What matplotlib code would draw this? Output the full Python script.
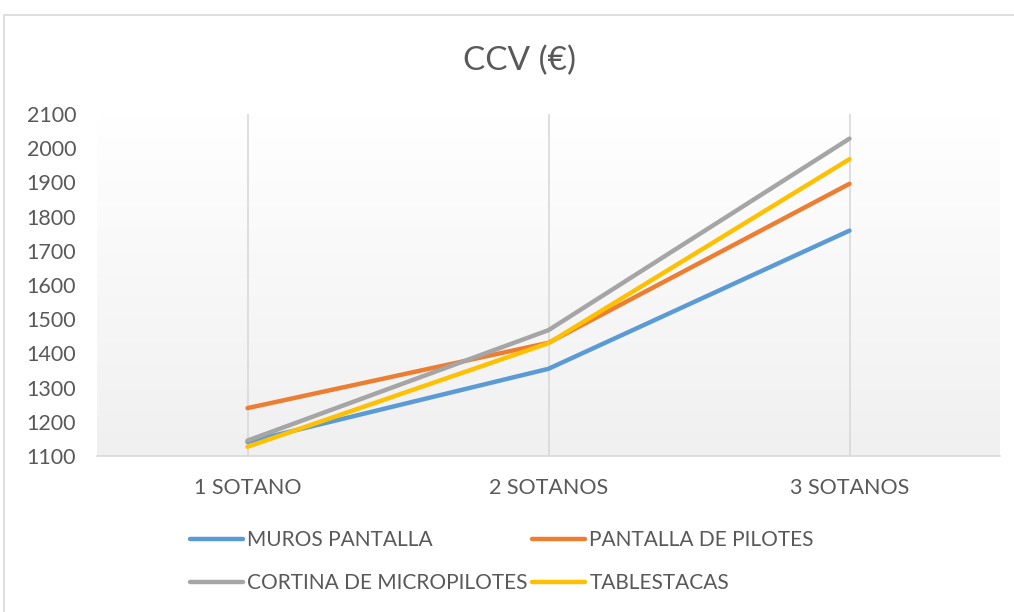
import matplotlib.pyplot as plt
import numpy as np
from matplotlib.patches import Rectangle

plt.rcParams['font.family'] = ['Lato', 'DejaVu Sans']

# Data
categories = ['1 SOTANO', '2 SOTANOS', '3 SOTANOS']
muros_pantalla = [1141, 1355, 1759]
pantalla_pilotes = [1240, 1431, 1896]
cortina_micropilotes = [1145, 1468, 2028]
tablestacas = [1127, 1430, 1968]
yticks = [1100, 1200, 1300, 1400, 1500, 1600, 1700, 1800, 1900, 2000, 2100]

fig = plt.figure(figsize=(10.14, 6.12), dpi=100)
fig.patches.append(Rectangle((4 / 1014, -0.1), 1.1, (612 - 15) / 612 + 0.1,
                             transform=fig.transFigure, fill=False,
                             edgecolor='#d9d9d9', linewidth=1.2))

ax = fig.add_axes([97 / 1014, 156 / 612, 903 / 1014, 342 / 612])

# gradient background: white at top, light gray at bottom
grad = np.linspace(1.0, 0.0, 256).reshape(-1, 1)
ax.imshow(grad, extent=[0, 1, 0, 1], transform=ax.transAxes, aspect='auto',
          cmap=plt.matplotlib.colors.LinearSegmentedColormap.from_list(
              'g', ['#f0f0f0', '#ffffff']), zorder=0)

x = np.arange(len(categories))
series = [
    ('MUROS PANTALLA', muros_pantalla, '#5B9BD5'),
    ('PANTALLA DE PILOTES', pantalla_pilotes, '#ED7D31'),
    ('CORTINA DE MICROPILOTES', cortina_micropilotes, '#A5A5A5'),
    ('TABLESTACAS', tablestacas, '#FFC000'),
]
handles = {}
for name, vals, col in series:
    h, = ax.plot(x, vals, color=col, lw=3.2, solid_capstyle='round',
                 solid_joinstyle='round', label=name, zorder=3)
    handles[name] = h

ax.set_xlim(-0.5, 2.5)
ax.set_ylim(1100, 2100)
ax.set_yticks(yticks)
ax.set_xticks(x)
ax.set_xticklabels(categories)
for xi in x:
    ax.axvline(xi, color='#d9d9d9', lw=1.2, zorder=1)

for s in ['top', 'right', 'left']:
    ax.spines[s].set_visible(False)
ax.spines['bottom'].set_color('#d9d9d9')
ax.spines['bottom'].set_linewidth(1.2)
ax.tick_params(axis='both', length=0, labelsize=15.5, labelcolor='#595959')
ax.tick_params(axis='x', pad=16)
ax.tick_params(axis='y', pad=15)

fig.text(0.512, 0.9, 'CCV (€)', ha='center', va='center', fontsize=24,
         color='#595959')

order = ['MUROS PANTALLA', 'CORTINA DE MICROPILOTES',
         'PANTALLA DE PILOTES', 'TABLESTACAS']
leg = fig.legend([handles[k] for k in order], order, ncol=2, frameon=False,
                 loc='center', bbox_to_anchor=(0.495, 0.0825), fontsize=15,
                 handlelength=2.55, handletextpad=0.2, columnspacing=0.2,
                 labelspacing=1.1)
for t in leg.get_texts():
    t.set_color('#595959')

fig.savefig('out.png', dpi=100)
